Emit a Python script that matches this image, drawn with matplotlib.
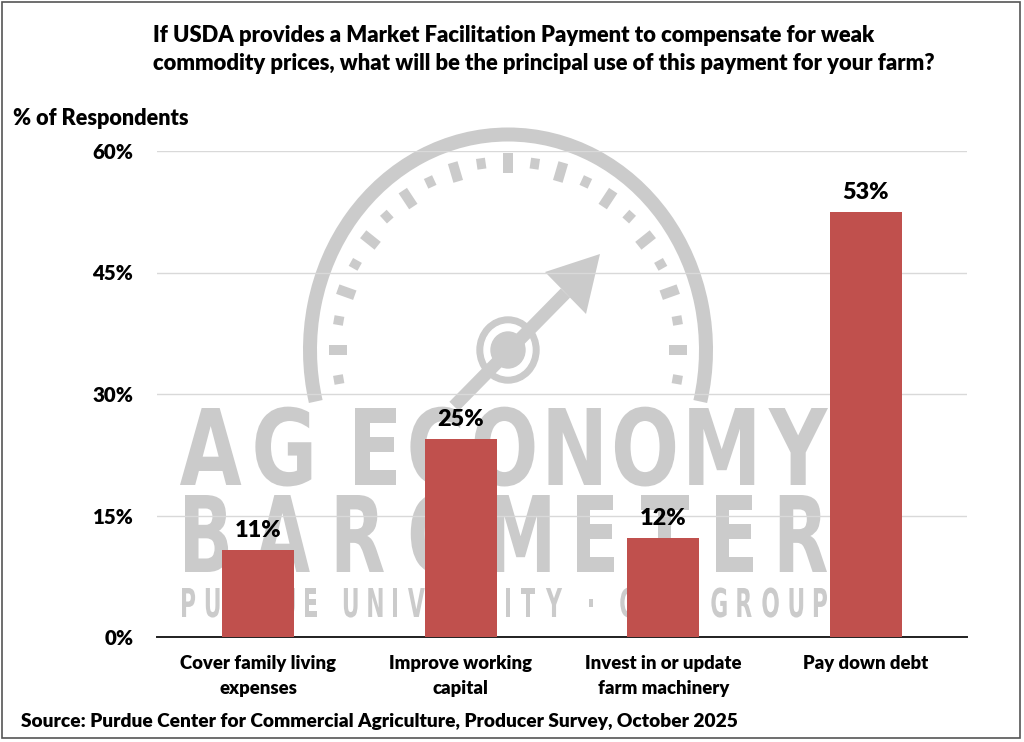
import numpy as np
import matplotlib
matplotlib.use("Agg")
import matplotlib.pyplot as plt
from matplotlib.patches import Arc, Ellipse, Polygon, PathPatch, Rectangle
from matplotlib.textpath import TextPath
from matplotlib.font_manager import FontProperties
from matplotlib.transforms import Affine2D

# data
categories = ["Cover family living\nexpenses", "Improve working\ncapital",
              "Invest in or update\nfarm machinery", "Pay down debt"]
values = [10.7, 24.4, 12.2, 52.5]
value_labels = ["11%", "25%", "12%", "53%"]
yticks = [0, 15, 30, 45, 60]

title_lines = ["If USDA provides a Market Facilitation Payment to compensate for weak",
               "commodity prices, what will be the principal use of this payment for your farm?"]
ylabel = "% of Respondents"
source = "Source: Purdue Center for Commercial Agriculture, Producer Survey, October 2025"

BAR = "#C0504D"
WM = "#CBCBCB"
W, H = 1024, 742
WEIGHT = "heavy"
plt.rcParams["font.family"] = ["Lato", "DejaVu Sans"]
plt.rcParams["font.weight"] = WEIGHT

fig = plt.figure(figsize=(W / 100, H / 100), dpi=100)

# ---- watermark (pixel coordinates, y up) ----
wm = fig.add_axes([0, 0, 1, 1], zorder=0)
wm.set_xlim(0, W)
wm.set_ylim(0, H)
wm.axis("off")


def px(v):
    return v * 0.72


cx, cy = 508, H - 350
wm.add_patch(Arc((cx, cy), 396, 431, theta1=-15, theta2=195, lw=px(14), color=WM))
for a in range(-9, 190, 9):
    t = np.radians(a)
    r0, r1, lw = (0.90, 1.0, 10) if a % 18 == 0 else (0.93, 0.985, 9)
    xs = [cx + r * 179 * np.cos(t) for r in (r0, r1)]
    ys = [cy + r * 197 * np.sin(t) for r in (r0, r1)]
    wm.plot(xs, ys, color=WM, lw=px(lw), solid_capstyle="butt")

d = np.array([0.692, 0.722])
tail = np.array([cx, cy]) - 78 * d
base = np.array([565.5, H - 293])
wm.plot([tail[0], base[0]], [tail[1], base[1]], color=WM, lw=px(13), solid_capstyle="butt")
wm.add_patch(Polygon([[600, H - 254], [545, H - 272], [586, H - 314]], color=WM, lw=0))
wm.add_patch(Ellipse((cx, cy), 62, 66, color=WM))
wm.add_patch(Ellipse((cx, cy), 48, 52, color="white"))
wm.add_patch(Ellipse((cx, cy), 34, 36, color=WM))

wm_font = FontProperties(family="DejaVu Sans", weight="bold")
cap_unit = TextPath((0, 0), "H", size=1, prop=wm_font).get_extents().height


def spaced_word(text, x0, x1, ybase, cap, squeeze):
    sy = cap / cap_unit
    sx = sy * squeeze
    items = []
    for ch in text:
        if ch == " ":
            items.append((None, None, cap * 0.2))
            continue
        p = TextPath((0, 0), ch, size=1, prop=wm_font)
        bb = p.get_extents()
        items.append((p, bb, bb.width * sx))
    gap = (x1 - x0 - sum(i[2] for i in items)) / (len(items) - 1)
    x = x0
    for p, bb, w in items:
        if p is not None:
            tr = Affine2D().translate(-bb.x0, 0).scale(sx, sy).translate(x, H - ybase)
            wm.add_patch(PathPatch(tr.transform_path(p), fc=WM, ec="none"))
        x += w + gap


spaced_word("AG ECONOMY", 180, 828, 485, 77, 0.76)
spaced_word("BAROMETER", 185, 827, 572, 77, 0.68)
spaced_word("PURDUE UNIVERSITY · CME GROUP", 182, 827, 617, 29, 0.55)

# ---- main chart ----
ax = fig.add_axes([157 / W, 1 - 637 / H, (967 - 157) / W, (637 - 151) / H], zorder=1)
ax.patch.set_alpha(0)
x = np.arange(len(categories))
ax.bar(x, values, width=0.354, color=BAR, zorder=3)
for xi, v, lab in zip(x, values, value_labels):
    ax.annotate(lab, (xi, v), xytext=(0, 9.4), textcoords="offset points",
                ha="center", va="baseline", fontsize=16.8, fontweight=WEIGHT)

ax.set_xlim(-0.5, len(categories) - 0.5)
ax.set_ylim(0, 60)
ax.set_yticks(yticks)
ax.set_yticklabels([f"{t}%" for t in yticks], fontsize=14.8, fontweight=WEIGHT)
ax.set_xticks(x)
ax.set_xticklabels(categories, fontsize=13.3, fontweight=WEIGHT, linespacing=1.6)
ax.tick_params(axis="y", length=0, pad=17)
ax.tick_params(axis="x", length=0, pad=13)
ax.grid(axis="y", color="#D9D9D9", lw=1, zorder=0)
for s in ["top", "right", "left"]:
    ax.spines[s].set_visible(False)
ax.spines["bottom"].set_color("#202020")
ax.spines["bottom"].set_linewidth(1.4)

fig.text(153 / W, 1 - 41.7 / H, title_lines[0], fontsize=15.8, fontweight=WEIGHT, va="baseline")
fig.text(153 / W, 1 - 70 / H, title_lines[1], fontsize=15.8, fontweight=WEIGHT, va="baseline")
fig.text(13 / W, 1 - 125 / H, ylabel, fontsize=15.6, fontweight=WEIGHT, va="baseline")
fig.text(21 / W, 1 - 727 / H, source, fontsize=13.75, fontweight=WEIGHT, va="baseline")

fig.patches.append(Rectangle((2 / W, 4 / H), 1018 / W, 736 / H, transform=fig.transFigure,
                             fill=False, ec="#555555", lw=1.2))

fig.savefig("out.png", dpi=100)
